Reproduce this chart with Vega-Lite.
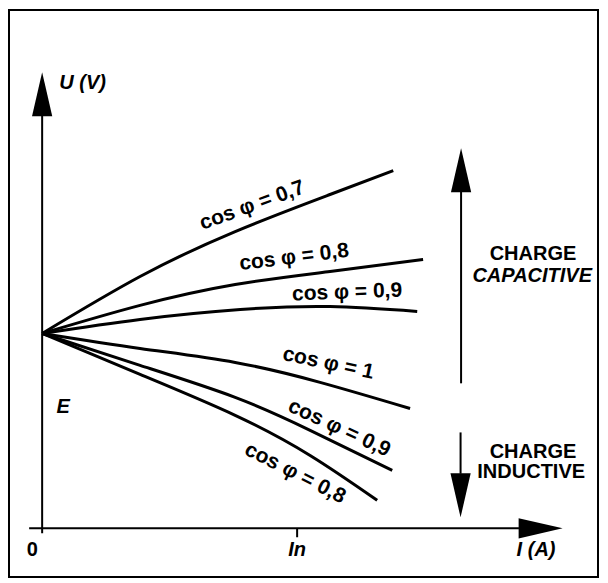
{
  "$schema": "https://vega.github.io/schema/vega-lite/v6.json",
  "width": 608,
  "height": 583,
  "autosize": {"type": "fit", "contains": "padding"},
  "padding": {"left": 9, "top": 10, "right": 10, "bottom": 6},
  "background": "white",
  "config": {
    "view": {"stroke": "black", "strokeWidth": 2},
    "text": {"font": "Liberation Sans", "fontSize": 20, "fontWeight": "bold", "color": "black"}
  },
  "datasets": {
    "curves": [
      {"pf": "0,7 cap", "I": 0, "U": 1},
      {"pf": "0,7 cap", "I": 0.384, "U": 1.292},
      {"pf": "0,7 cap", "I": 0.757, "U": 1.523},
      {"pf": "0,7 cap", "I": 1.129, "U": 1.713},
      {"pf": "0,7 cap", "I": 1.377, "U": 1.836},
      {"pf": "0,8 cap", "I": 0, "U": 1},
      {"pf": "0,8 cap", "I": 0.384, "U": 1.144},
      {"pf": "0,8 cap", "I": 0.757, "U": 1.251},
      {"pf": "0,8 cap", "I": 1.129, "U": 1.318},
      {"pf": "0,8 cap", "I": 1.494, "U": 1.380},
      {"pf": "0,9 cap", "I": 0, "U": 1},
      {"pf": "0,9 cap", "I": 0.384, "U": 1.072},
      {"pf": "0,9 cap", "I": 0.777, "U": 1.123},
      {"pf": "0,9 cap", "I": 1.129, "U": 1.138},
      {"pf": "0,9 cap", "I": 1.471, "U": 1.113},
      {"pf": "1", "I": 0, "U": 1},
      {"pf": "1", "I": 0.384, "U": 0.923},
      {"pf": "1", "I": 0.757, "U": 0.851},
      {"pf": "1", "I": 1.090, "U": 0.749},
      {"pf": "1", "I": 1.443, "U": 0.615},
      {"pf": "0,9 ind", "I": 0, "U": 1},
      {"pf": "0,9 ind", "I": 0.384, "U": 0.836},
      {"pf": "0,9 ind", "I": 0.757, "U": 0.672},
      {"pf": "0,9 ind", "I": 1.051, "U": 0.503},
      {"pf": "0,9 ind", "I": 1.373, "U": 0.297},
      {"pf": "0,8 ind", "I": 0, "U": 1},
      {"pf": "0,8 ind", "I": 0.384, "U": 0.790},
      {"pf": "0,8 ind", "I": 0.757, "U": 0.580},
      {"pf": "0,8 ind", "I": 1.051, "U": 0.374},
      {"pf": "0,8 ind", "I": 1.314, "U": 0.144}
    ],
    "curveLabels": [
      {"label": "cos φ = 0,7", "I": 0.824, "U": 1.656, "angle": -20},
      {"label": "cos φ = 0,8", "I": 0.988, "U": 1.390, "angle": -7},
      {"label": "cos φ = 0,9", "I": 1.196, "U": 1.210, "angle": -2},
      {"label": "cos φ = 1", "I": 1.122, "U": 0.846, "angle": 12},
      {"label": "cos φ = 0,9", "I": 1.165, "U": 0.513, "angle": 25},
      {"label": "cos φ = 0,8", "I": 0.992, "U": 0.282, "angle": 27}
    ],
    "segments": [
      {"part": "U axis", "I": 0, "U": -0.026, "I2": 0, "U2": 2.13},
      {"part": "I axis", "I": -0.051, "U": 0, "I2": 1.87, "U2": 0},
      {"part": "In tick", "I": 1, "U": 0, "I2": 1, "U2": -0.046},
      {"part": "capacitive", "I": 1.643, "U": 0.744, "I2": 1.643, "U2": 1.73},
      {"part": "inductive", "I": 1.641, "U": 0.492, "I2": 1.641, "U2": 0.28}
    ],
    "heads": [
      {"part": "U axis", "I": 0, "U": 2.228, "dir": "up"},
      {"part": "I axis", "I": 1.955, "U": 0, "dir": "right"},
      {"part": "capacitive", "I": 1.643, "U": 1.838, "dir": "up"},
      {"part": "inductive", "I": 1.641, "U": 0.169, "dir": "down"}
    ],
    "italicLabels": [
      {"text": "U (V)", "I": 0.067, "U": 2.287, "align": "left"},
      {"text": "E", "I": 0.082, "U": 0.621, "align": "center"},
      {"text": "In", "I": 1.0, "U": -0.113, "align": "center"},
      {"text": "I (A)", "I": 1.937, "U": -0.113, "align": "center"},
      {"text": "CAPACITIVE", "I": 1.922, "U": 1.297, "align": "center"}
    ],
    "uprightLabels": [
      {"text": "0", "I": -0.039, "U": -0.113},
      {"text": "CHARGE", "I": 1.925, "U": 1.410},
      {"text": "CHARGE", "I": 1.925, "U": 0.390},
      {"text": "INDUCTIVE", "I": 1.918, "U": 0.287}
    ]
  },
  "layer": [
    {
      "data": {"name": "curves"},
      "mark": {"type": "line", "color": "black", "strokeWidth": 3, "interpolate": "natural", "strokeCap": "butt"},
      "encoding": {
        "x": {"field": "I", "type": "quantitative", "scale": {"domain": [-0.13, 2.18], "nice": false, "zero": false}, "axis": null},
        "y": {"field": "U", "type": "quantitative", "scale": {"domain": [-0.25, 2.66], "nice": false, "zero": false}, "axis": null},
        "detail": {"field": "pf", "type": "nominal"}
      }
    },
    {
      "data": {"name": "segments"},
      "mark": {"type": "rule", "color": "black", "strokeWidth": 2},
      "encoding": {
        "x": {"field": "I", "type": "quantitative"},
        "y": {"field": "U", "type": "quantitative"},
        "x2": {"field": "I2"},
        "y2": {"field": "U2"}
      }
    },
    {
      "data": {"name": "heads"},
      "transform": [{"filter": "datum.dir == 'up'"}],
      "mark": {"type": "point", "shape": "M0,-1L0.46,1L-0.46,1Z", "filled": true, "color": "black", "opacity": 1, "size": 1936, "angle": 0},
      "encoding": {
        "x": {"field": "I", "type": "quantitative"},
        "y": {"field": "U", "type": "quantitative"}
      }
    },
    {
      "data": {"name": "heads"},
      "transform": [{"filter": "datum.dir == 'right'"}],
      "mark": {"type": "point", "shape": "M0,-1L0.46,1L-0.46,1Z", "filled": true, "color": "black", "opacity": 1, "size": 1936, "angle": 90},
      "encoding": {
        "x": {"field": "I", "type": "quantitative"},
        "y": {"field": "U", "type": "quantitative"}
      }
    },
    {
      "data": {"name": "heads"},
      "transform": [{"filter": "datum.dir == 'down'"}],
      "mark": {"type": "point", "shape": "M0,-1L0.46,1L-0.46,1Z", "filled": true, "color": "black", "opacity": 1, "size": 1936, "angle": 180},
      "encoding": {
        "x": {"field": "I", "type": "quantitative"},
        "y": {"field": "U", "type": "quantitative"}
      }
    },
    {
      "data": {"name": "curveLabels"},
      "mark": {"type": "text", "align": "center", "baseline": "middle", "fontSize": 21},
      "encoding": {
        "x": {"field": "I", "type": "quantitative"},
        "y": {"field": "U", "type": "quantitative"},
        "text": {"field": "label"},
        "angle": {"field": "angle", "type": "quantitative", "scale": null}
      }
    },
    {
      "data": {"name": "italicLabels"},
      "transform": [{"filter": "datum.align == 'left'"}],
      "mark": {"type": "text", "align": "left", "baseline": "middle", "fontStyle": "italic"},
      "encoding": {
        "x": {"field": "I", "type": "quantitative"},
        "y": {"field": "U", "type": "quantitative"},
        "text": {"field": "text"}
      }
    },
    {
      "data": {"name": "italicLabels"},
      "transform": [{"filter": "datum.align == 'center'"}],
      "mark": {"type": "text", "align": "center", "baseline": "middle", "fontStyle": "italic"},
      "encoding": {
        "x": {"field": "I", "type": "quantitative"},
        "y": {"field": "U", "type": "quantitative"},
        "text": {"field": "text"}
      }
    },
    {
      "data": {"name": "uprightLabels"},
      "mark": {"type": "text", "align": "center", "baseline": "middle"},
      "encoding": {
        "x": {"field": "I", "type": "quantitative"},
        "y": {"field": "U", "type": "quantitative"},
        "text": {"field": "text"}
      }
    }
  ]
}
